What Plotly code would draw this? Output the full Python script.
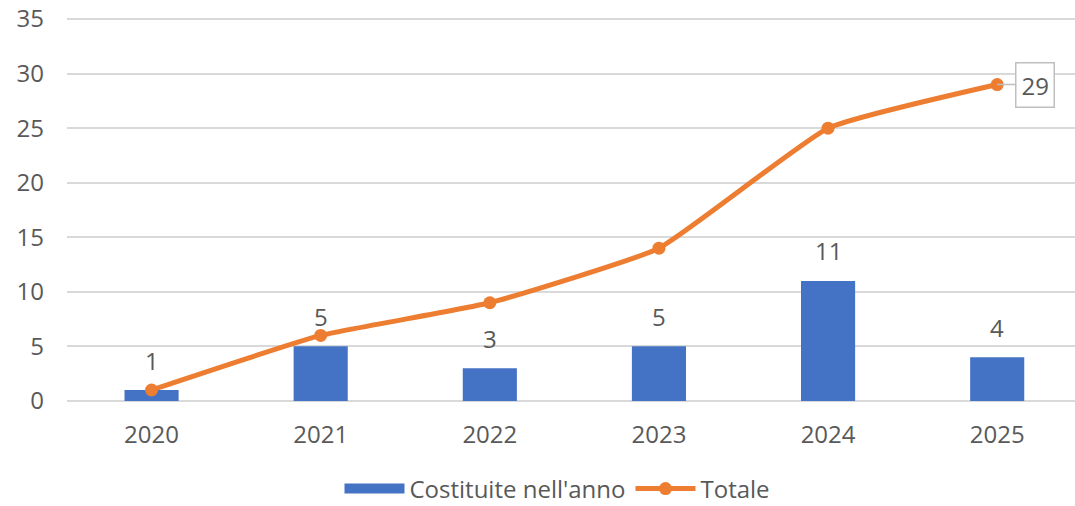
import plotly.graph_objects as go

years = ["2020", "2021", "2022", "2023", "2024", "2025"]
costituite = [1, 5, 3, 5, 11, 4]
totale = [1, 6, 9, 14, 25, 29]
y_ticks = [0, 5, 10, 15, 20, 25, 30, 35]

BLUE = "#4472C4"
ORANGE = "#ED7D31"
GREY = "#595959"
FONT = "Open Sans"
FS = 24

idx = list(range(len(years)))

fig = go.Figure()
fig.add_trace(go.Bar(
    x=idx, y=costituite, name="Costituite nell'anno", showlegend=False,
    marker=dict(color=BLUE, line=dict(width=0)), width=0.32,
))
# legend entry for the bars (wide rectangle swatch)
fig.add_trace(go.Scatter(
    x=[None], y=[None], mode="lines", name="Costituite nell'anno",
    line=dict(color=BLUE, width=13),
))
fig.add_trace(go.Scatter(
    x=idx, y=totale, name="Totale", mode="lines+markers",
    line=dict(color=ORANGE, width=5, shape="spline", smoothing=0.4),
    marker=dict(color=ORANGE, size=13),
))

for i, yv in zip(idx, costituite):
    fig.add_annotation(
        x=i, y=yv, text=str(yv), showarrow=False, yanchor="middle",
        yshift=30, font=dict(family=FONT, size=FS, color=GREY),
    )

fig.add_annotation(
    x=idx[-1], y=totale[-1], text=str(totale[-1]), showarrow=True,
    arrowhead=0, arrowwidth=1.5, arrowcolor="#BFBFBF", ax=38, ay=0,
    bordercolor="#BFBFBF", borderwidth=1.5, borderpad=5, bgcolor="white",
    font=dict(family=FONT, size=FS, color=GREY),
)

fig.update_layout(
    width=1075, height=506,
    margin=dict(l=67, r=0, t=18, b=104, autoexpand=False),
    paper_bgcolor="white", plot_bgcolor="white",
    font=dict(family=FONT, size=FS, color=GREY),
    bargap=0.68,
    showlegend=True,
    legend=dict(orientation="h", x=0.4866, xanchor="center", y=-0.2266, yanchor="middle",
                font=dict(family=FONT, size=FS, color=GREY), itemwidth=60,
                traceorder="normal"),
    xaxis=dict(range=[-0.5, 5.46], tickvals=idx, ticktext=years, showgrid=False,
               zeroline=False, showline=False, ticks="", ticklabelstandoff=16,
               tickfont=dict(family=FONT, size=FS, color=GREY)),
    yaxis=dict(range=[-0.1, 35.1], tickvals=y_ticks, showgrid=True, gridcolor="#D9D9D9",
               gridwidth=1.5, zeroline=False, showline=False, ticks="",
               ticklabelstandoff=22, ticklabeloverflow="allow",
               tickfont=dict(family=FONT, size=FS, color=GREY)),
)

fig.write_html(
    "out.html",
    config={"displayModeBar": False},
    post_script="document.body.style.margin='0';document.body.style.overflow='hidden';",
)
